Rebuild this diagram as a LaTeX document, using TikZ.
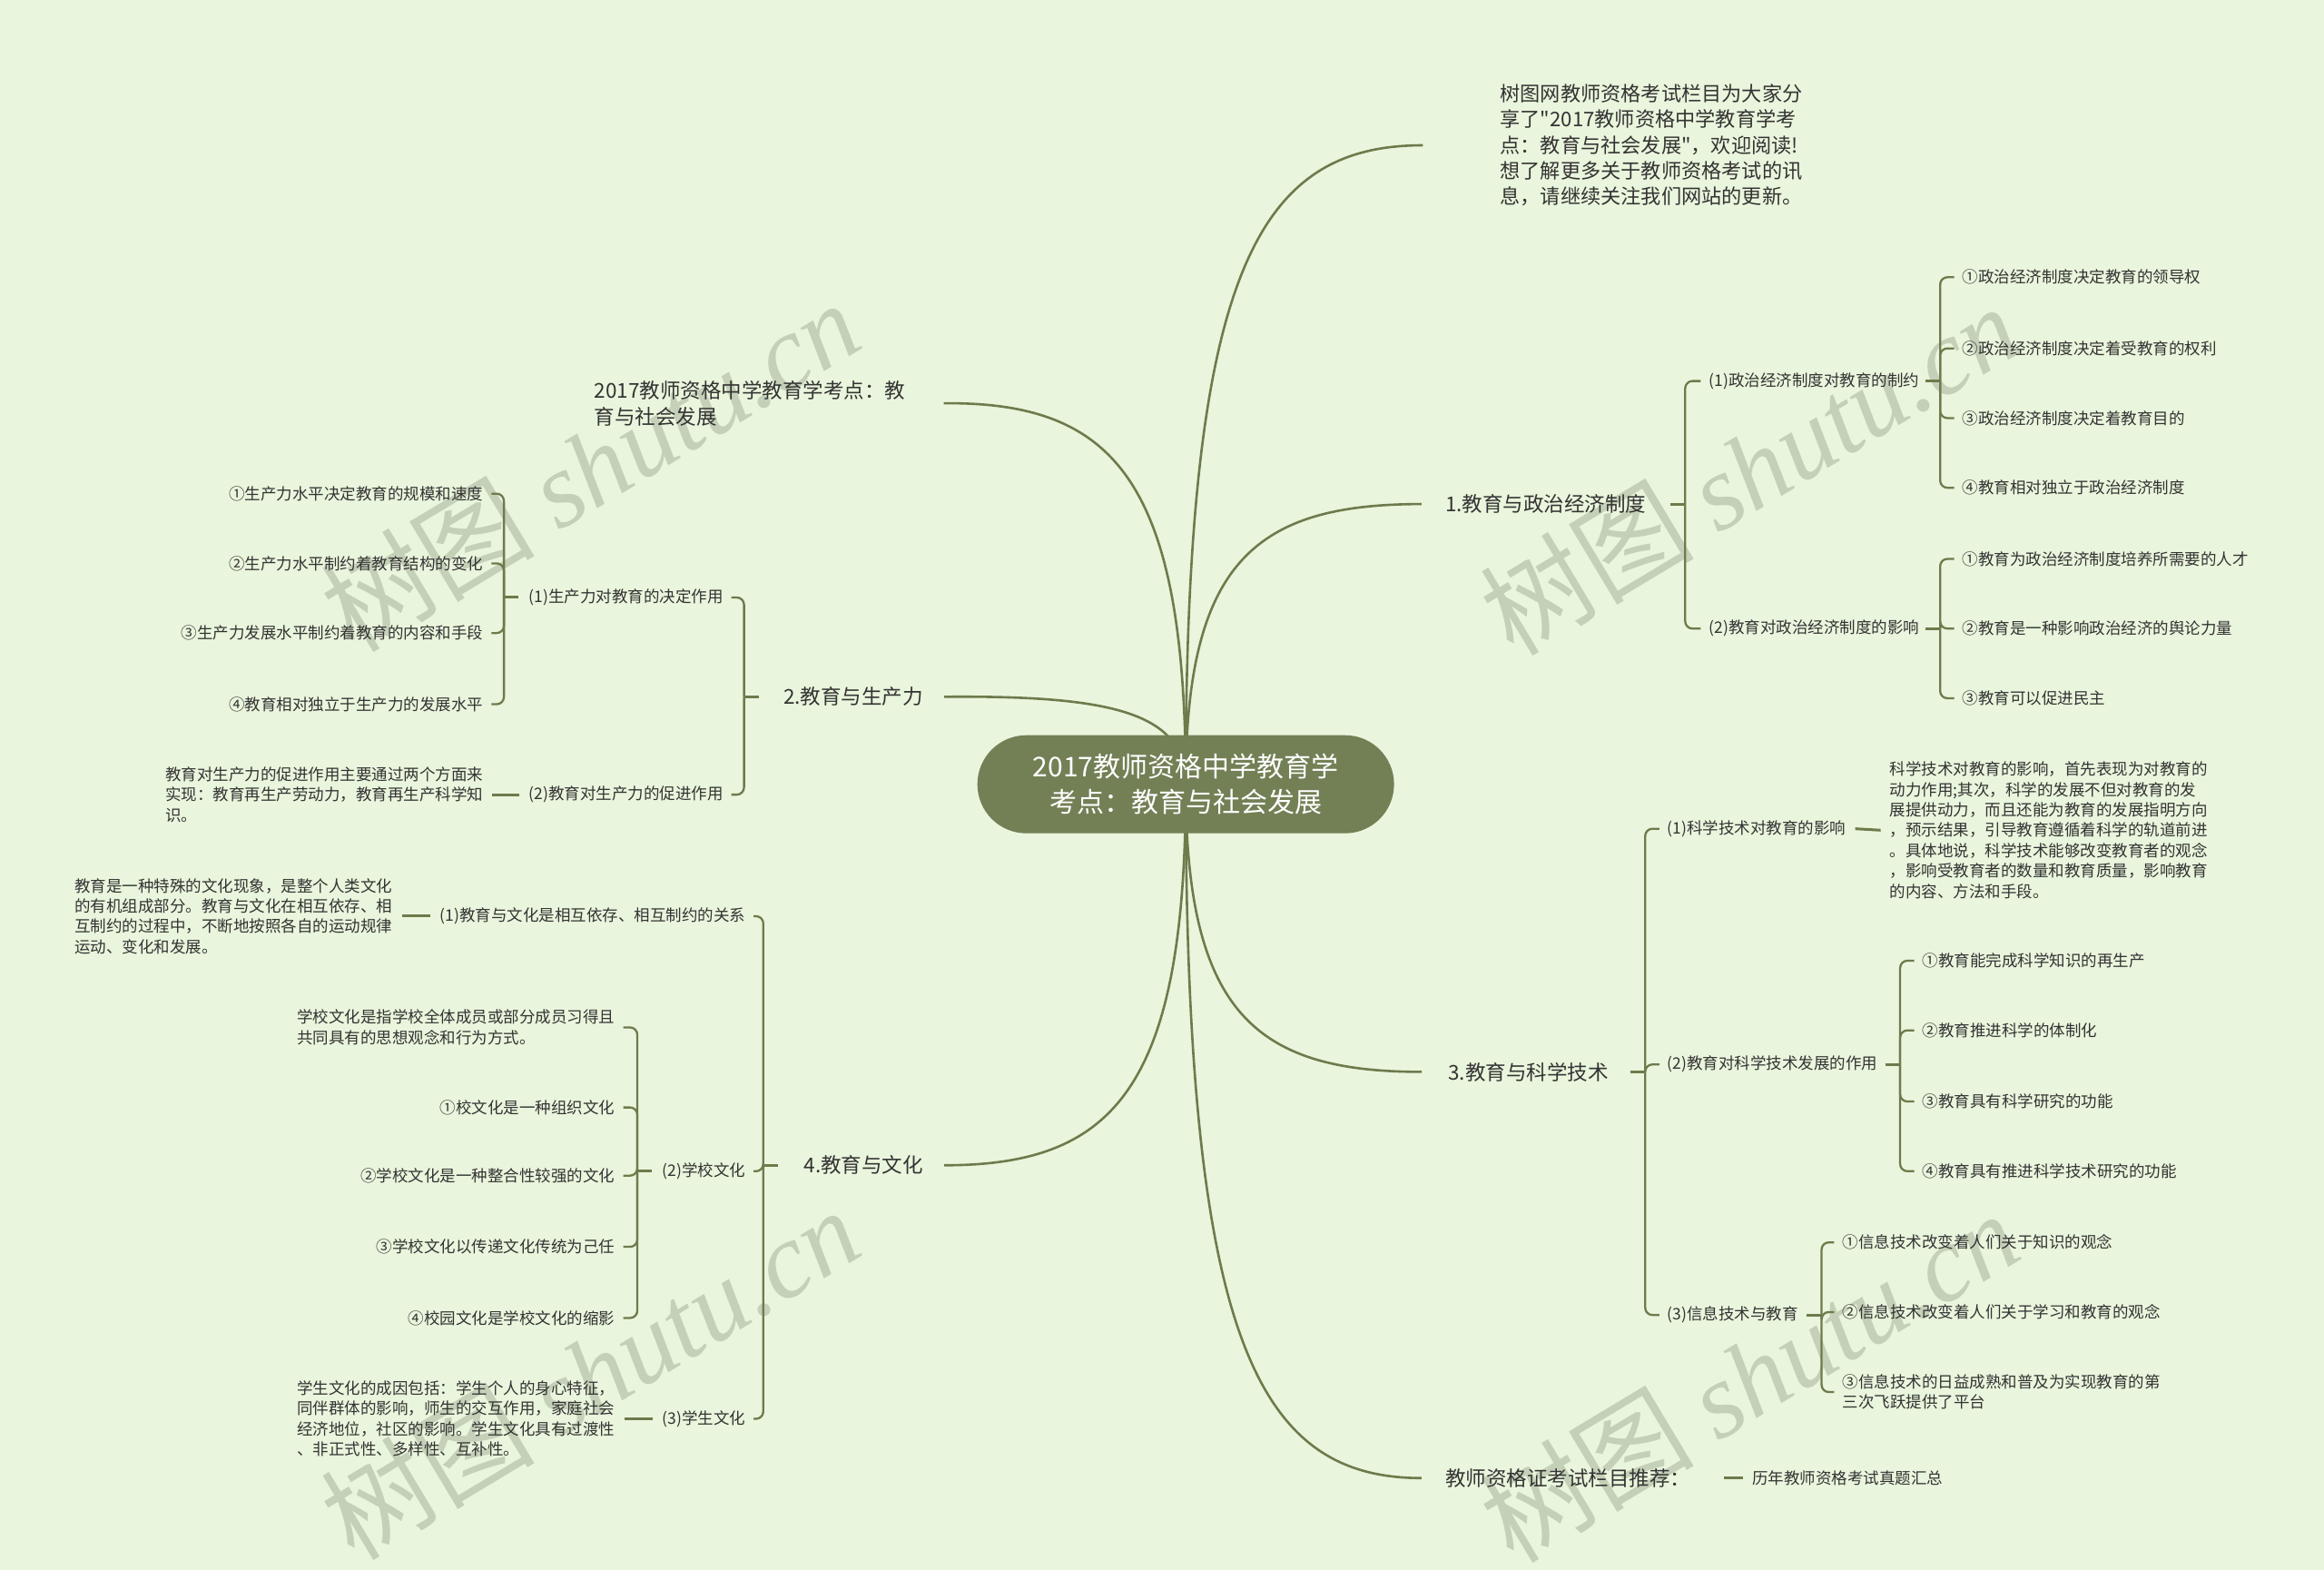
\documentclass[tikz,border=0pt]{standalone}
\usepackage{fontspec}
\setmainfont{Noto Sans CJK SC}
\newfontfamily\plainq{Noto Sans CJK SC}
\newfontfamily\wmlat{Liberation Serif}
\usetikzlibrary{backgrounds,calc}
\definecolor{bgc}{HTML}{E9F5DC}
\definecolor{ln}{HTML}{6D7B4C}
\definecolor{cf}{HTML}{738055}
\definecolor{tx}{HTML}{333333}
\definecolor{wm}{HTML}{C4D0B7}
\newcommand\brR[3]{\draw[br] (#1.east -| #2) -- (#3.west -| #2) -- ([xshift=-9pt]#3.west);}
\newcommand\brL[3]{\draw[br] (#1.west -| #2) -- (#3.east -| #2) -- ([xshift=9pt]#3.east);}
\newcommand\tkR[2]{\draw[tk] ($(#1.east -| #2)+(-10,0)$) -- (#1.east -| #2);}
\newcommand\tkL[2]{\draw[tk] ($(#1.west -| #2)+(10,0)$) -- (#1.west -| #2);}
\begin{document}
\begin{tikzpicture}[x=1.6327pt,y=-1.6327pt,
  lone/.style={font=\fontsize{22.5}{29}\selectfont, text=tx, inner sep=0pt, align=left},
  ltwo/.style={font=\fontsize{17.5}{22.4}\selectfont, text=tx, inner sep=0pt, align=left},
  cur/.style={draw=ln, line width=2.6pt},
  br/.style={draw=ln, line width=2.3pt, rounded corners=8pt},
  tk/.style={draw=ln, line width=3pt},
  wmk/.style={text=wm, rotate=31, inner sep=0pt, font=\fontsize{118}{118}\selectfont},
  ctr/.style={fill=cf, text=white, minimum width=459pt, minimum height=108pt, rounded corners=54pt, align=center, font=\fontsize{30}{39}\selectfont, inner sep=0pt}]
\useasboundingbox (0,0) rectangle (1568,1059);

% centre
\node[ctr] (c) at (800,529) {2017教师资格中学教育学\\考点：教育与社会发展};

% right side
\node[lone, anchor=west, font=\fontsize{22.2}{28.3}\plainq\selectfont] (intro) at (1012,98) {树图网教师资格考试栏目为大家分\\享了"2017教师资格中学教育学考\\点：教育与社会发展"，欢迎阅读!\\想了解更多关于教师资格考试的讯\\息，请继续关注我们网站的更新。};
\node[lone, anchor=west] (n1) at (975,340) {1.教育与政治经济制度};
\node[ltwo, anchor=west] (n1a) at (1153,257) {(1)政治经济制度对教育的制约};
\node[ltwo, anchor=west] (n1a1) at (1324,187) {①政治经济制度决定教育的领导权};
\node[ltwo, anchor=west] (n1a2) at (1324,235) {②政治经济制度决定着受教育的权利};
\node[ltwo, anchor=west] (n1a3) at (1324,282) {③政治经济制度决定着教育目的};
\node[ltwo, anchor=west] (n1a4) at (1324,329) {④教育相对独立于政治经济制度};
\node[ltwo, anchor=west] (n1b) at (1153,424) {(2)教育对政治经济制度的影响};
\node[ltwo, anchor=west] (n1b1) at (1324,377) {①教育为政治经济制度培养所需要的人才};
\node[ltwo, anchor=west] (n1b2) at (1324,424) {②教育是一种影响政治经济的舆论力量};
\node[ltwo, anchor=west] (n1b3) at (1324,471) {③教育可以促进民主};

\node[lone, anchor=west] (n3) at (977,723) {3.教育与科学技术};
\node[ltwo, anchor=west] (n3a) at (1125,559) {(1)科学技术对教育的影响};
\node[ltwo, anchor=west] (n3a1) at (1275,560) {科学技术对教育的影响，首先表现为对教育的\\动力作用;其次，科学的发展不但对教育的发\\展提供动力，而且还能为教育的发展指明方向\\，预示结果，引导教育遵循着科学的轨道前进\\。具体地说，科学技术能够改变教育者的观念\\，影响受教育者的数量和教育质量，影响教育\\的内容、方法和手段。};
\node[ltwo, anchor=west] (n3b) at (1125,718) {(2)教育对科学技术发展的作用};
\node[ltwo, anchor=west] (n3b1) at (1297,648) {①教育能完成科学知识的再生产};
\node[ltwo, anchor=west] (n3b2) at (1297,695) {②教育推进科学的体制化};
\node[ltwo, anchor=west] (n3b3) at (1297,743) {③教育具有科学研究的功能};
\node[ltwo, anchor=west] (n3b4) at (1297,790) {④教育具有推进科学技术研究的功能};
\node[ltwo, anchor=west] (n3c) at (1125,887) {(3)信息技术与教育};
\node[ltwo, anchor=west] (n3c1) at (1243,838) {①信息技术改变着人们关于知识的观念};
\node[ltwo, anchor=west] (n3c2) at (1243,885) {②信息技术改变着人们关于学习和教育的观念};
\node[ltwo, anchor=west] (n3c3) at (1243,939) {③信息技术的日益成熟和普及为实现教育的第\\三次飞跃提供了平台};

\node[lone, anchor=west] (n5) at (975,997) {教师资格证考试栏目推荐：};
\node[ltwo, anchor=west] (n5a) at (1182,997) {历年教师资格考试真题汇总};

% left side
\node[lone, anchor=east] (n0) at (611,272) {2017教师资格中学教育学考点：教\\育与社会发展};
\node[lone, anchor=east] (n2) at (623,470) {2.教育与生产力};
\node[ltwo, anchor=east] (n2a) at (488,403) {(1)生产力对教育的决定作用};
\node[ltwo, anchor=east] (n2a1) at (326,333) {①生产力水平决定教育的规模和速度};
\node[ltwo, anchor=east] (n2a2) at (326,380) {②生产力水平制约着教育结构的变化};
\node[ltwo, anchor=east] (n2a3) at (326,427) {③生产力发展水平制约着教育的内容和手段};
\node[ltwo, anchor=east] (n2a4) at (326,475) {④教育相对独立于生产力的发展水平};
\node[ltwo, anchor=east] (n2b) at (488,536) {(2)教育对生产力的促进作用};
\node[ltwo, anchor=east] (n2b1) at (326,536) {教育对生产力的促进作用主要通过两个方面来\\实现：教育再生产劳动力，教育再生产科学知\\识。};

\node[lone, anchor=east] (n4) at (623,786) {4.教育与文化};
\node[ltwo, anchor=east] (n4a) at (503,618) {(1)教育与文化是相互依存、相互制约的关系};
\node[ltwo, anchor=east] (n4a1) at (265,618) {教育是一种特殊的文化现象，是整个人类文化\\的有机组成部分。教育与文化在相互依存、相\\互制约的过程中，不断地按照各自的运动规律\\运动、变化和发展。};
\node[ltwo, anchor=east] (n4b) at (503,790) {(2)学校文化};
\node[ltwo, anchor=east] (n4b0) at (415,693) {学校文化是指学校全体成员或部分成员习得且\\共同具有的思想观念和行为方式。};
\node[ltwo, anchor=east] (n4b1) at (415,747) {①校文化是一种组织文化};
\node[ltwo, anchor=east] (n4b2) at (415,793) {②学校文化是一种整合性较强的文化};
\node[ltwo, anchor=east] (n4b3) at (415,841) {③学校文化以传递文化传统为己任};
\node[ltwo, anchor=east] (n4b4) at (415,889) {④校园文化是学校文化的缩影};
\node[ltwo, anchor=east] (n4c) at (503,957) {(3)学生文化};
\node[ltwo, anchor=east] (n4c1) at (415,957) {学生文化的成因包括：学生个人的身心特征，\\同伴群体的影响，师生的交互作用，家庭社会\\经济地位，社区的影响。学生文化具有过渡性\\、非正式性、多样性、互补性。};

% spine positions
\coordinate (s1) at (1137,0);
\coordinate (s1a) at (1309,0);
\coordinate (s1b) at (1309,0);
\coordinate (s3) at (1110,0);
\coordinate (s3b) at (1282,0);
\coordinate (s3c) at (1229,0);
\coordinate (s2) at (502,0);
\coordinate (s2a) at (340,0);
\coordinate (s4) at (515,0);
\coordinate (s4b) at (430,0);

\begin{pgfonlayer}{background}
\fill[bgc] (0,0) rectangle (1568,1059);
\node[wmk] (wm1) at (398,314) {树图 {\wmlat\itshape shutu.cn}};
\node[wmk] (wm2) at (1180,316) {树图 {\wmlat\itshape shutu.cn}};
\node[wmk] (wm3) at (398,926) {树图 {\wmlat\itshape shutu.cn}};
\node[wmk] (wm4) at (1180,928) {树图 {\wmlat\itshape shutu.cn}};
% main curves
\draw[cur] (c.center) .. controls (800,184) and (848,98) .. ([xshift=-85pt]intro.west);
\draw[cur] (c.center) .. controls (800,378) and (848,340) .. ([xshift=-26pt]n1.west);
\draw[cur] (c.center) .. controls (800,684) and (848,723) .. ([xshift=-29pt]n3.west);
\draw[cur] (c.center) .. controls (800,903) and (848,997) .. ([xshift=-26pt]n5.west);
\draw[cur] (c.center) .. controls (800,323) and (751,271) .. ([xshift=42pt]n0.east);
\draw[cur] (c.center) .. controls (800,481) and (751,469) .. ([xshift=23pt]n2.east);
\draw[cur] (c.center) .. controls (800,735) and (751,786) .. ([xshift=23pt]n4.east);
\end{pgfonlayer}

% right brackets
\tkR{n1}{s1}
\brR{n1}{s1}{n1a} \brR{n1}{s1}{n1b}
\tkR{n1a}{s1a}
\brR{n1a}{s1a}{n1a1} \brR{n1a}{s1a}{n1a2} \brR{n1a}{s1a}{n1a3} \brR{n1a}{s1a}{n1a4}
\tkR{n1b}{s1b}
\brR{n1b}{s1b}{n1b1} \brR{n1b}{s1b}{n1b2} \brR{n1b}{s1b}{n1b3}
\tkR{n3}{s3}
\brR{n3}{s3}{n3a} \brR{n3}{s3}{n3b} \brR{n3}{s3}{n3c}
\draw[tk] ([xshift=10pt]n3a.east) -- ([xshift=-10pt]n3a1.west);
\tkR{n3b}{s3b}
\brR{n3b}{s3b}{n3b1} \brR{n3b}{s3b}{n3b2} \brR{n3b}{s3b}{n3b3} \brR{n3b}{s3b}{n3b4}
\tkR{n3c}{s3c}
\brR{n3c}{s3c}{n3c1} \brR{n3c}{s3c}{n3c2} \brR{n3c}{s3c}{n3c3}
\draw[tk] ([xshift=37pt]n5.east) -- ([xshift=-10pt]n5a.west);

% left brackets
\tkL{n2}{s2}
\brL{n2}{s2}{n2a} \brL{n2}{s2}{n2b}
\tkL{n2a}{s2a}
\brL{n2a}{s2a}{n2a1} \brL{n2a}{s2a}{n2a2} \brL{n2a}{s2a}{n2a3} \brL{n2a}{s2a}{n2a4}
\draw[tk] ([xshift=-10pt]n2b.west) -- ([xshift=10pt]n2b1.east);
\tkL{n4}{s4}
\brL{n4}{s4}{n4a} \brL{n4}{s4}{n4b} \brL{n4}{s4}{n4c}
\draw[tk] ([xshift=-10pt]n4a.west) -- ([xshift=10pt]n4a1.east);
\tkL{n4b}{s4b}
\brL{n4b}{s4b}{n4b0} \brL{n4b}{s4b}{n4b1} \brL{n4b}{s4b}{n4b2} \brL{n4b}{s4b}{n4b3} \brL{n4b}{s4b}{n4b4}
\draw[tk] ([xshift=-10pt]n4c.west) -- ([xshift=10pt]n4c1.east);
\end{tikzpicture}
\end{document}
